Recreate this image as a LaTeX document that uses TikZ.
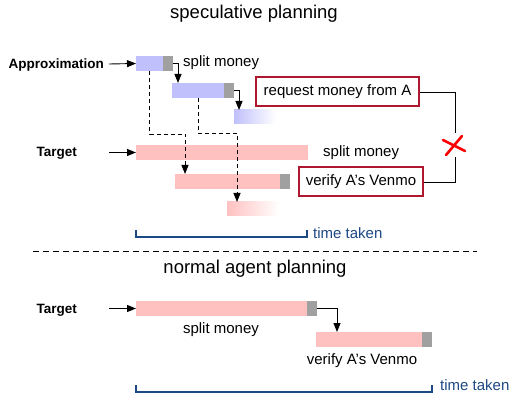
\documentclass[tikz,border=0pt]{standalone}
\usepackage{fontspec}
\setmainfont{Liberation Sans}
\usetikzlibrary{arrows.meta,calc}
\definecolor{barblue}{RGB}{192,192,252}
\definecolor{barpink}{RGB}{255,192,192}
\definecolor{tipgray}{RGB}{160,160,160}
\definecolor{boxred}{RGB}{176,22,46}
\definecolor{brblue}{RGB}{28,72,132}
\begin{document}
\begin{tikzpicture}[x=1pt,y=-1pt,
  bar/.style={draw=none,inner sep=0pt,outer sep=0pt,minimum height=15pt,anchor=west},
  bluebar/.style={bar,fill=barblue},
  pinkbar/.style={bar,fill=barpink},
  tipbar/.style={bar,fill=tipgray,minimum width=9.5pt},
  txt/.style={font=\fontsize{15}{18}\selectfont,inner sep=0pt},
  ttl/.style={font=\fontsize{18.5}{22}\selectfont,inner sep=0pt},
  lbl/.style={font=\fontsize{13.5}{16}\selectfont\bfseries,inner sep=0pt,anchor=east},
  arr/.style={-{Triangle[length=9pt,width=7pt]},line width=0.9pt},
  dasharr/.style={arr,dash pattern=on 4pt off 3pt},
  redbox/.style={draw=boxred,line width=2pt,inner sep=0pt,minimum height=29pt,font=\fontsize{15}{18}\selectfont},
  bracket/.style={draw=brblue,line width=2pt},
  tt/.style={font=\fontsize{15}{18}\selectfont,text=brblue,inner sep=0pt,anchor=west}
]
\useasboundingbox (0,0) rectangle (516,395);

% titles
\node[ttl] (t1title) at (254,14) {speculative planning};
\node[ttl] (t2title) at (255,269) {normal agent planning};

% speculative: approximation
\node[lbl] (approx) at (104,65) {Approximation};
\coordinate (approxin) at (109,64);
\node[bluebar,minimum width=27pt] (a1) at (136,63.5) {};
\node[tipbar] (g1) at (163,63.5) {};
\node[bluebar,minimum width=52pt] (a2) at (172,90.5) {};
\node[tipbar] (g2) at (224,90.5) {};
\node[bar,minimum width=42pt,minimum height=14pt] (a3) at (234,117) {};
\shade[left color=barblue,right color=white] (a3.north west) rectangle (a3.south east);
\node[txt,anchor=west] (sm1) at (183,63) {split money};

% speculative: target
\node[lbl] (target1) at (77,153) {Target};
\coordinate (target1in) at (109,152.5);
\node[pinkbar,minimum width=172pt] (p1) at (136,152.5) {};
\node[pinkbar,minimum width=105pt] (p2) at (175,181.5) {};
\node[tipbar] (pg2) at (280,181.5) {};
\node[bar,minimum width=52pt,minimum height=14pt] (p3) at (227,209) {};
\shade[left color=barpink,right color=white] (p3.north west) rectangle (p3.south east);
\node[txt,anchor=west] (sm2) at (323,153) {split money};

% arrows
\draw[arr] (approxin) -- (a1.west);
\draw[arr] (target1in) -- (p1.west);
\draw[arr] (g1.east) -| ([xshift=6pt]a2.north west);
\draw[arr] (g2.east) -| ([xshift=5pt]a3.north west);
\draw[dasharr] (a1.south) -- ++(0,63) -| ([xshift=10pt]p2.north west);
\draw[dasharr] (a2.south) -- ++(0,35) -| ([xshift=10pt]p3.north west);

% red boxes
\node[redbox,minimum width=163pt] (req) at (337.5,92) {request money from A};
\node[redbox,minimum width=124pt] (ver) at (361,182) {verify A’s Venmo};
\coordinate (xm) at (455,145);
\draw[line width=0.8pt] (req.east) -| ([yshift=12pt]xm);
\draw[line width=0.8pt] (ver.east) -| ([yshift=-12pt]xm);
\draw[red,line width=2.6pt,line cap=round] (443,140) -- (465,151);
\draw[red,line width=2.6pt,line cap=round] (446,155) -- (462,136);

% time taken 1
\coordinate (b1l) at (136,230);
\coordinate (b1r) at (307,230);
\draw[bracket] (b1l) -- ++(0,7) -- ([yshift=-7pt]b1r) -- (b1r);
\node[tt] (tt1) at (313,233) {time taken};

% separator
\coordinate (sepl) at (33,251.5);
\coordinate (sepr) at (477,251.5);
\draw[line width=0.8pt,dash pattern=on 6pt off 4pt] (sepl) -- (sepr);

% normal planning
\node[lbl] (target2) at (77,310) {Target};
\coordinate (target2in) at (109,308.5);
\node[pinkbar,minimum width=171pt] (n1) at (136,308.5) {};
\node[tipbar] (ng1) at (307,308.5) {};
\node[pinkbar,minimum width=106pt] (n2) at (316,339.5) {};
\node[tipbar] (ng2) at (422,339.5) {};
\node[txt] (sm3) at (221,330) {split money};
\node[txt] (vv) at (362,361) {verify A’s Venmo};
\draw[arr] (target2in) -- (n1.west);
\draw[arr] (ng1.east) -| ([xshift=21pt]n2.north west);

% time taken 2
\coordinate (b2l) at (136,385);
\coordinate (b2r) at (432,385);
\draw[bracket] (b2l) -- ++(0,7) -- ([yshift=-7pt]b2r) -- (b2r);
\node[tt] (tt2) at (440,385) {time taken};
\end{tikzpicture}
\end{document}
